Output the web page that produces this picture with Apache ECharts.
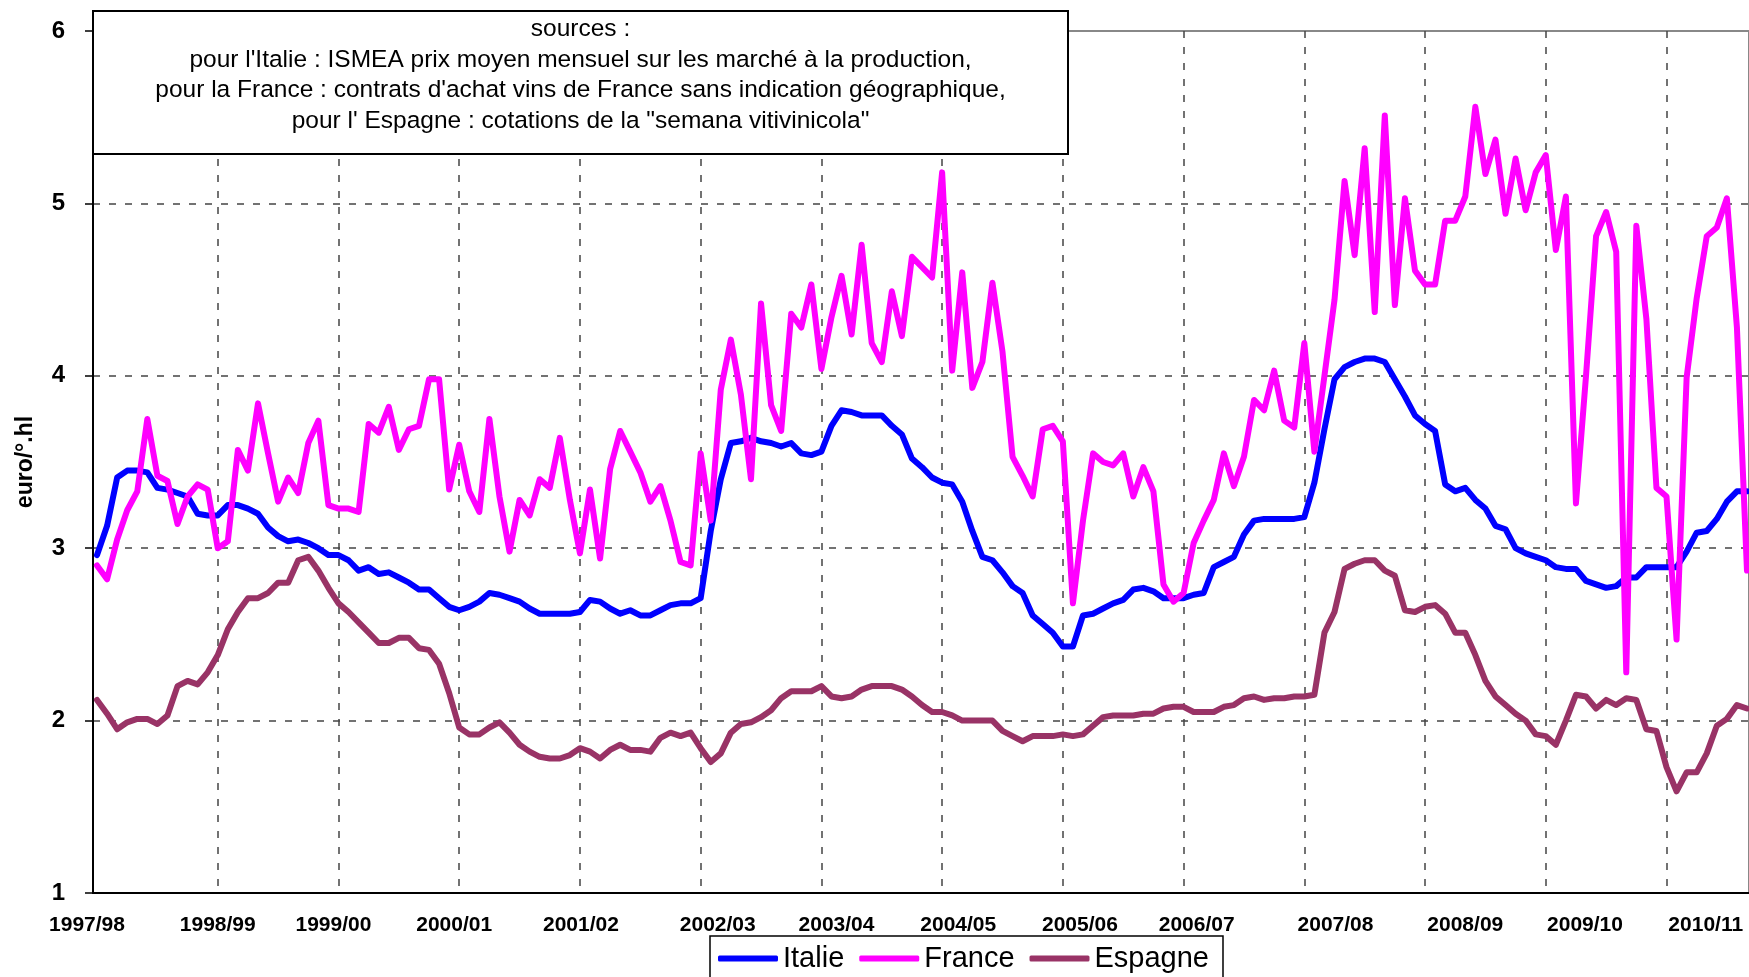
<!DOCTYPE html>
<html>
<head>
<meta charset="utf-8">
<script src="https://cdn.jsdelivr.net/npm/echarts@6/dist/echarts.min.js"></script>
<style>
  html, body { margin: 0; padding: 0; background: #fff; }
  #chart { width: 1749px; height: 977px; }
</style>
</head>
<body>
<div id="chart"></div>
<script>
// prix moyens mensuels, euro/°.hl, un point par mois depuis août 1997
const italie = [
  2.96, 3.13, 3.41, 3.45, 3.45, 3.44, 3.35, 3.34, 3.32, 3.30, 3.20, 3.19,
  3.19, 3.25, 3.25, 3.23, 3.20, 3.12, 3.07, 3.04, 3.05, 3.03, 3.00, 2.96,
  2.96, 2.93, 2.87, 2.89, 2.85, 2.86, 2.83, 2.80, 2.76, 2.76, 2.71, 2.66,
  2.64, 2.66, 2.69, 2.74, 2.73, 2.71, 2.69, 2.65, 2.62, 2.62, 2.62, 2.62,
  2.63, 2.70, 2.69, 2.65, 2.62, 2.64, 2.61, 2.61, 2.64, 2.67, 2.68, 2.68,
  2.71, 3.10, 3.40, 3.61, 3.62, 3.64, 3.62, 3.61, 3.59, 3.61, 3.55, 3.54,
  3.56, 3.71, 3.80, 3.79, 3.77, 3.77, 3.77, 3.71, 3.66, 3.52, 3.47, 3.41,
  3.38, 3.37, 3.27, 3.10, 2.95, 2.93, 2.86, 2.78, 2.74, 2.61, 2.56, 2.51,
  2.43, 2.43, 2.61, 2.62, 2.65, 2.68, 2.70, 2.76, 2.77, 2.75, 2.71, 2.71,
  2.71, 2.73, 2.74, 2.89, 2.92, 2.95, 3.08, 3.16, 3.17, 3.17, 3.17, 3.17,
  3.18, 3.38, 3.69, 3.98, 4.05, 4.08, 4.10, 4.10, 4.08, 3.98, 3.88, 3.77,
  3.72, 3.68, 3.37, 3.33, 3.35, 3.28, 3.23, 3.13, 3.11, 3.00, 2.97, 2.95,
  2.93, 2.89, 2.88, 2.88, 2.81, 2.79, 2.77, 2.78, 2.83, 2.83, 2.89, 2.89,
  2.89, 2.89, 2.98, 3.09, 3.10, 3.17, 3.27, 3.33, 3.33
];

const france = [
  2.90, 2.82, 3.05, 3.22, 3.33, 3.75, 3.42, 3.39, 3.14, 3.30, 3.37, 3.34,
  3.00, 3.04, 3.57, 3.45, 3.84, 3.55, 3.27, 3.41, 3.32, 3.61, 3.74, 3.25,
  3.23, 3.23, 3.21, 3.72, 3.67, 3.82, 3.57, 3.69, 3.71, 3.98, 3.98, 3.34,
  3.60, 3.33, 3.21, 3.75, 3.30, 2.98, 3.28, 3.19, 3.40, 3.35, 3.64, 3.28,
  2.97, 3.34, 2.94, 3.46, 3.68, 3.56, 3.44, 3.27, 3.36, 3.16, 2.92, 2.90,
  3.55, 3.16, 3.92, 4.21, 3.89, 3.40, 4.42, 3.83, 3.68, 4.36, 4.28, 4.53,
  4.04, 4.34, 4.58, 4.24, 4.76, 4.19, 4.08, 4.49, 4.23, 4.69, 4.63, 4.57,
  5.18, 4.03, 4.60, 3.93, 4.08, 4.54, 4.14, 3.53, 3.42, 3.30, 3.69, 3.71,
  3.62, 2.68, 3.16, 3.55, 3.50, 3.48, 3.55, 3.30, 3.47, 3.33, 2.79, 2.69,
  2.74, 3.03, 3.16, 3.28, 3.55, 3.36, 3.53, 3.86, 3.80, 4.03, 3.74, 3.70,
  4.19, 3.56, 4.00, 4.44, 5.13, 4.70, 5.32, 4.37, 5.51, 4.41, 5.03, 4.61,
  4.53, 4.53, 4.90, 4.90, 5.04, 5.56, 5.17, 5.37, 4.94, 5.26, 4.96, 5.18,
  5.28, 4.73, 5.04, 3.26, 4.00, 4.81, 4.95, 4.72, 2.28, 4.87, 4.33, 3.35,
  3.30, 2.47, 3.99, 4.45, 4.81, 4.86, 5.03, 4.28, 2.87
];

const espagne = [
  2.12, 2.04, 1.95, 1.99, 2.01, 2.01, 1.98, 2.03, 2.20, 2.23, 2.21, 2.28,
  2.38, 2.53, 2.63, 2.71, 2.71, 2.74, 2.80, 2.80, 2.93, 2.95, 2.87, 2.77,
  2.68, 2.63, 2.57, 2.51, 2.45, 2.45, 2.48, 2.48, 2.42, 2.41, 2.33, 2.16,
  1.96, 1.92, 1.92, 1.96, 1.99, 1.93, 1.86, 1.82, 1.79, 1.78, 1.78, 1.80,
  1.84, 1.82, 1.78, 1.83, 1.86, 1.83, 1.83, 1.82, 1.90, 1.93, 1.91, 1.93,
  1.84, 1.76, 1.81, 1.93, 1.98, 1.99, 2.02, 2.06, 2.13, 2.17, 2.17, 2.17,
  2.20, 2.14, 2.13, 2.14, 2.18, 2.20, 2.20, 2.20, 2.18, 2.14, 2.09, 2.05,
  2.05, 2.03, 2.00, 2.00, 2.00, 2.00, 1.94, 1.91, 1.88, 1.91, 1.91, 1.91,
  1.92, 1.91, 1.92, 1.97, 2.02, 2.03, 2.03, 2.03, 2.04, 2.04, 2.07, 2.08,
  2.08, 2.05, 2.05, 2.05, 2.08, 2.09, 2.13, 2.14, 2.12, 2.13, 2.13, 2.14,
  2.14, 2.15, 2.51, 2.63, 2.88, 2.91, 2.93, 2.93, 2.87, 2.84, 2.64, 2.63,
  2.66, 2.67, 2.62, 2.51, 2.51, 2.38, 2.23, 2.14, 2.09, 2.04, 2.00, 1.92,
  1.91, 1.86, 2.00, 2.15, 2.14, 2.07, 2.12, 2.09, 2.13, 2.12, 1.95, 1.94,
  1.73, 1.59, 1.70, 1.70, 1.81, 1.97, 2.01, 2.09, 2.07
];

// campagnes (libellés de l'axe X)
const campaigns = ['1997/98', '1998/99', '1999/00', '2000/01', '2001/02', '2002/03', '2003/04',
  '2004/05', '2005/06', '2006/07', '2007/08', '2008/09', '2009/10', '2010/11'];
// début de chaque campagne, en mois depuis août 1997 (lignes verticales)
const campaignStarts = [12, 24, 36, 48, 60, 72, 84, 96, 108, 120, 132, 144, 156];
// où Excel a posé chaque libellé (ils dérivent un peu à droite)
const campaignLabelAt = [-0.4, 12, 23.5, 35.5, 48.1, 61.7, 73.5, 85.6, 97.7, 109.3, 123.1, 136.0, 147.9, 159.9];

const yTicks = [2, 3, 4, 5];
const sources = [
  'sources :',
  "pour l'Italie : ISMEA prix moyen mensuel sur les marché à la production,",
  "pour la France : contrats d'achat vins de France sans indication géographique,",
  'pour l\' Espagne : cotations de la "semana vitivinicola"'
];

const FONT = '"Liberation Sans", Arial, sans-serif';
const GRID_LINE = { color: '#444', width: 1.5, type: [7, 9] };

function toPoints(arr) {
  return arr.map((v, i) => [i, v]);
}

function campaignName(value) {
  let best = 0;
  for (let i = 1; i < campaignLabelAt.length; i++) {
    if (Math.abs(campaignLabelAt[i] - value) < Math.abs(campaignLabelAt[best] - value)) best = i;
  }
  return best === 0 ? '{first|' + campaigns[0] + '}' : campaigns[best];
}

const chart = echarts.init(document.getElementById('chart'), null, { renderer: 'canvas' });

const lineSeries = (name, data, color) => ({
  name: name,
  type: 'line',
  data: toPoints(data),
  symbol: 'none',
  showSymbol: false,
  color: color,
  lineStyle: { color: color, width: 6, cap: 'round', join: 'round' },
  itemStyle: { color: color },
  emphasis: { disabled: true }
});

chart.setOption({
  animation: false,
  backgroundColor: '#fff',
  grid: {
    left: 93,
    top: 31,
    right: 0,
    bottom: 84,
    show: true,
    borderColor: '#888',
    borderWidth: 2,
    backgroundColor: 'transparent'
  },
  xAxis: {
    type: 'value',
    min: -0.4,
    max: 164.2,
    axisLine: { show: true, onZero: false, lineStyle: { color: '#000', width: 2 } },
    axisTick: { show: false, customValues: campaignStarts },
    splitLine: { show: true, lineStyle: GRID_LINE },
    axisLabel: {
      customValues: campaignLabelAt,
      formatter: campaignName,
      margin: 22,
      color: '#000',
      fontSize: 21,
      fontWeight: 'bold',
      fontFamily: FONT,
      rich: {
        first: { color: '#000', fontSize: 21, fontWeight: 'bold', fontFamily: FONT, padding: [0, 12, 0, 0] }
      }
    }
  },
  yAxis: [{
    type: 'value',
    min: 1,
    max: 6,
    interval: 1,
    name: 'euro/°.hl',
    nameLocation: 'middle',
    nameRotate: 90,
    nameGap: 56,
    nameTextStyle: { color: '#000', fontSize: 23, fontWeight: 'bold', fontFamily: FONT },
    axisLine: { show: true, onZero: false, lineStyle: { color: '#000', width: 2 } },
    axisTick: { show: true, length: 8, lineStyle: { color: '#000', width: 1.5 } },
    axisLabel: { margin: 28, color: '#000', fontSize: 24, fontWeight: 'bold', fontFamily: FONT },
    splitLine: { show: false }
  }, {
    type: 'value',
    min: 1,
    max: 6,
    interval: 1,
    axisLine: { show: false, onZero: false },
    axisTick: { show: false, customValues: yTicks },
    axisLabel: { show: false },
    splitLine: { show: true, lineStyle: GRID_LINE }
  }],
  legend: {
    left: 710,
    top: 936,
    icon: 'roundRect',
    itemWidth: 60,
    itemHeight: 6,
    itemGap: 15,
    padding: [8, 14, 20, 8],
    backgroundColor: '#fff',
    borderColor: '#000',
    borderWidth: 1.5,
    borderRadius: 0,
    textStyle: { color: '#000', fontSize: 29, fontFamily: FONT },
    data: ['Italie', 'France', 'Espagne']
  },
  graphic: [{
    type: 'rect',
    z: 100,
    shape: { x: 93, y: 11, width: 975, height: 143 },
    style: { fill: '#fff', stroke: '#000', lineWidth: 2 }
  }, {
    type: 'text',
    z: 101,
    x: 580.5,
    y: 14,
    style: {
      text: sources.join('\n'),
      fill: '#000',
      font: '24.5px ' + FONT,
      textAlign: 'center',
      textVerticalAlign: 'top',
      lineHeight: 30.5
    }
  }],
  series: [
    lineSeries('Italie', italie, '#0000FF'),
    lineSeries('France', france, '#FF00FF'),
    lineSeries('Espagne', espagne, '#993366')
  ]
});
</script>
</body>
</html>
